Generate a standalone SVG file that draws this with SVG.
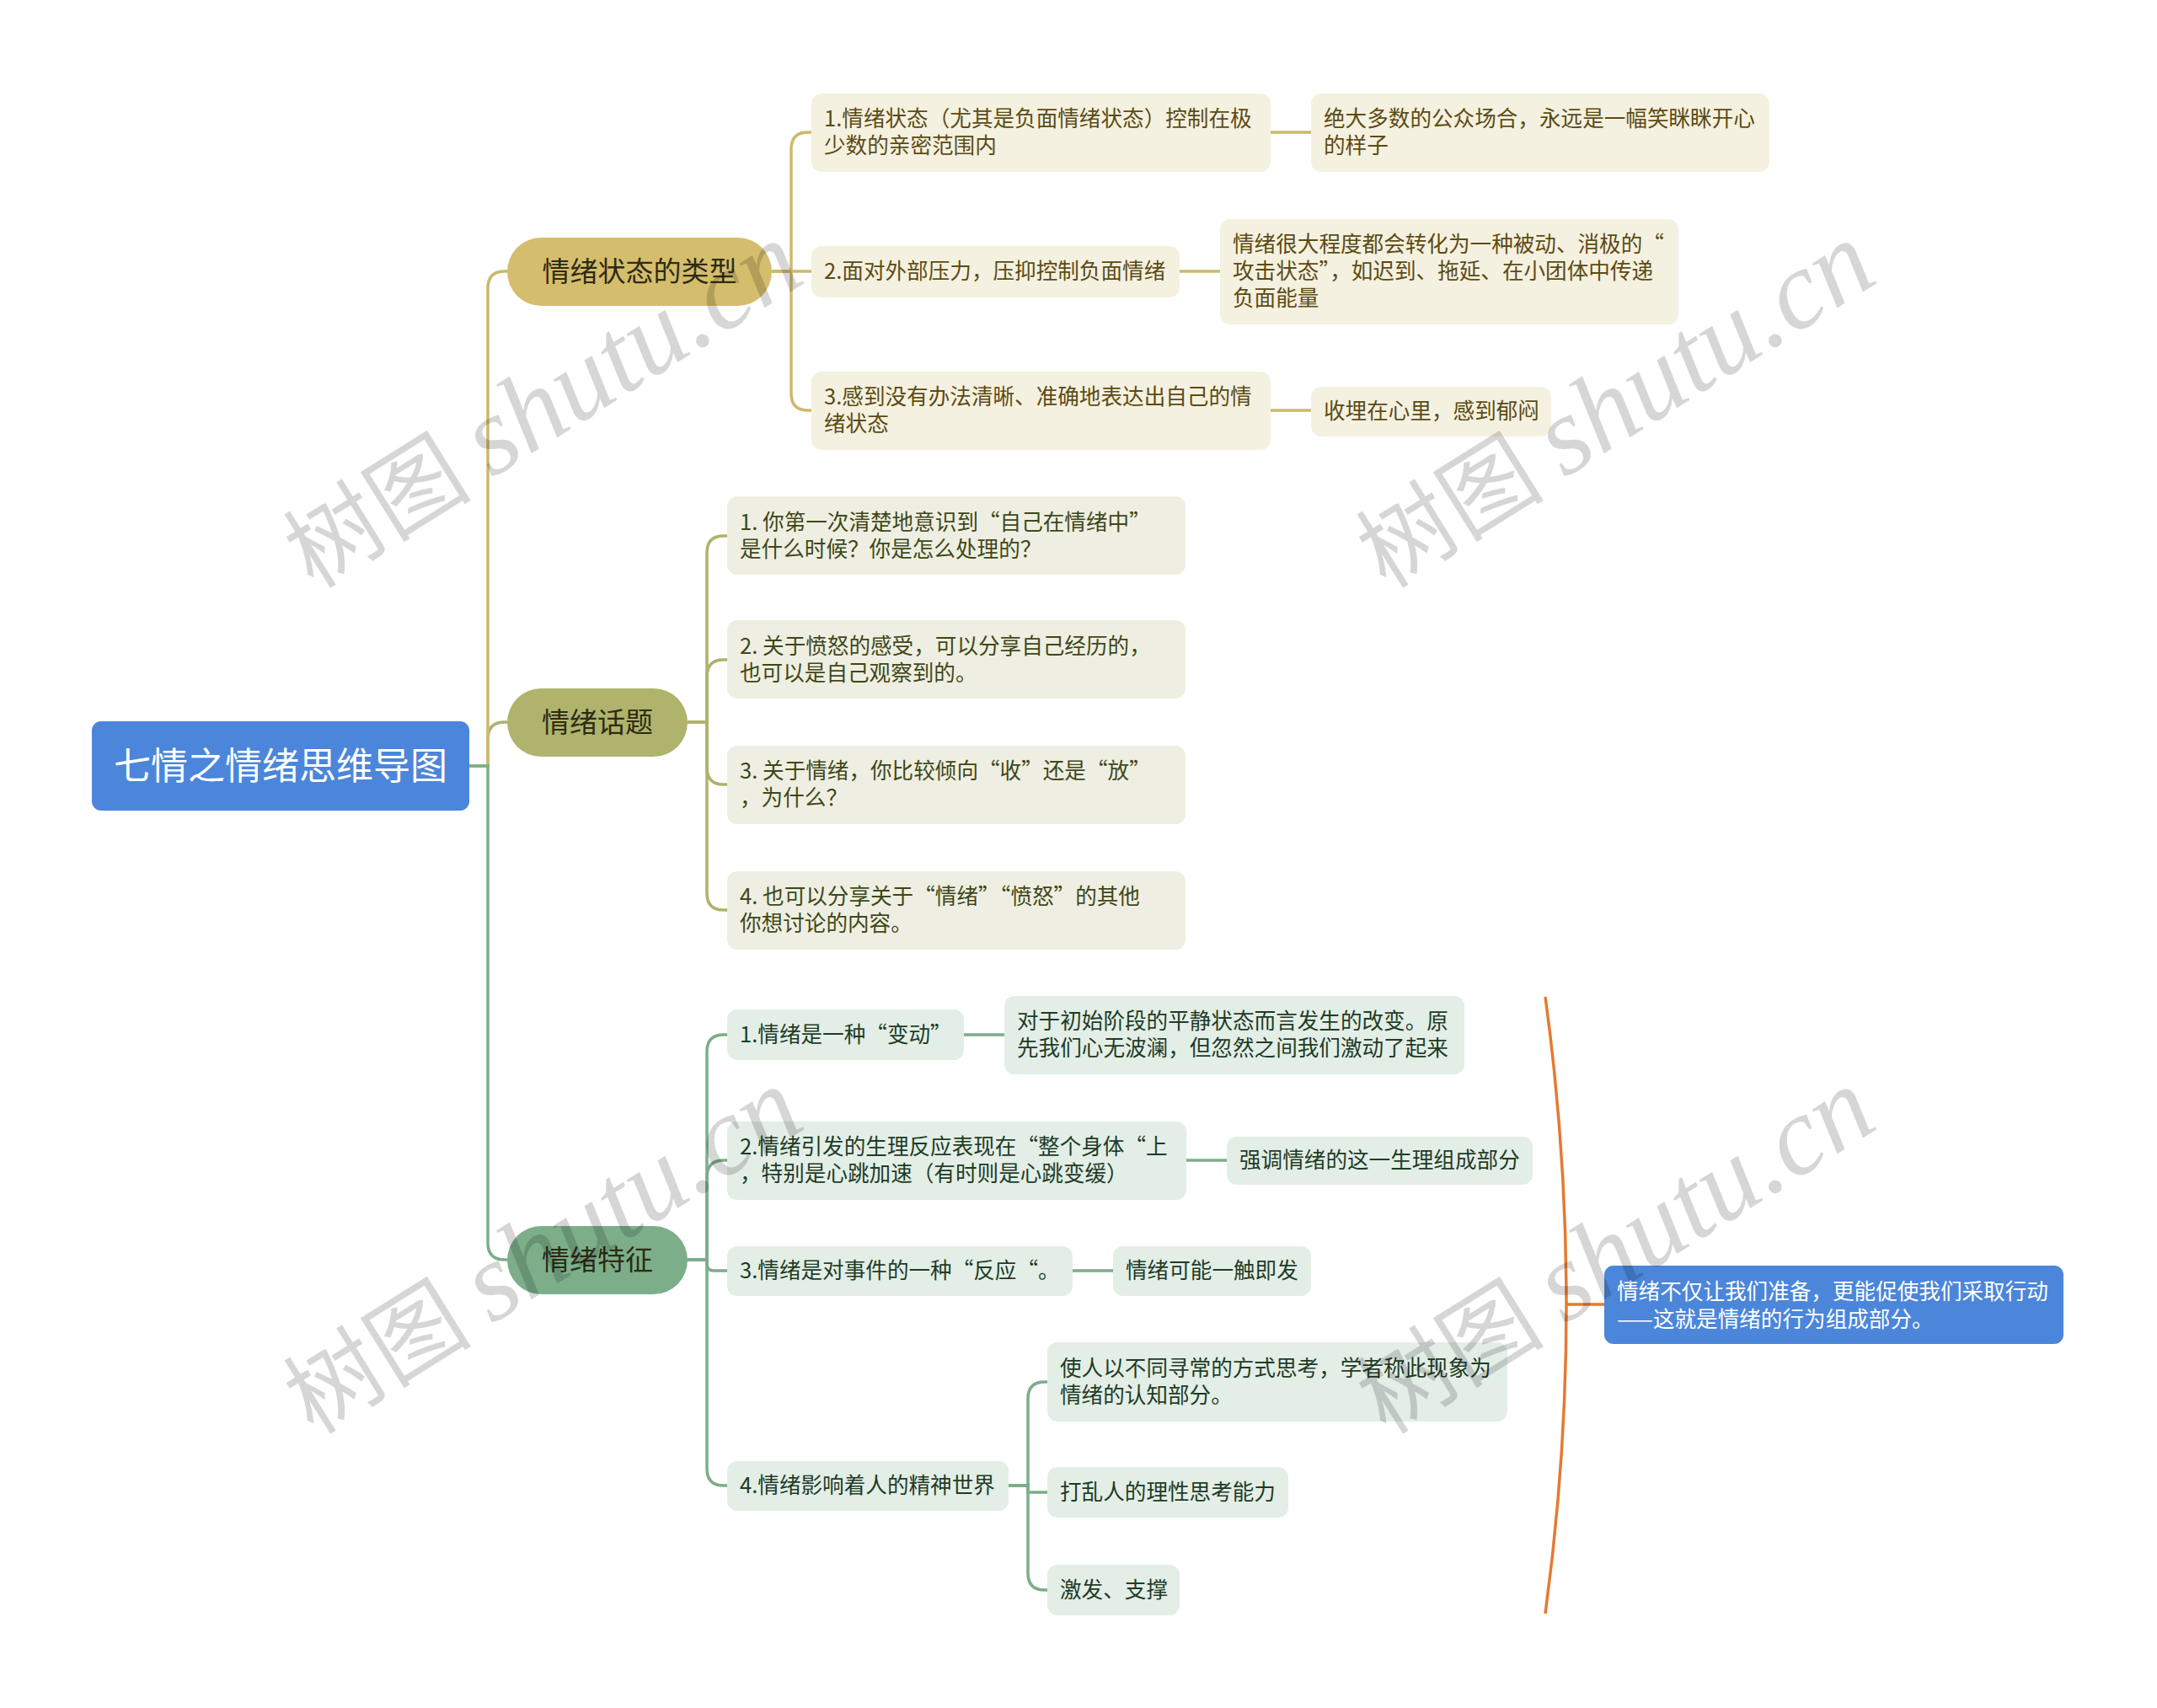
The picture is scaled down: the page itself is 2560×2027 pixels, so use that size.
<svg xmlns="http://www.w3.org/2000/svg" width="2560" height="2027" viewBox="0 0 2560 2027">
<style>
text{font-family:"Noto Sans CJK SC","Noto Sans",sans-serif;}
.t{font-size:25.6px;}
.l1{font-size:33px;text-anchor:middle;fill:#2e2a14;}
.root{font-size:44px;text-anchor:middle;fill:#ffffff;}
.gbox{fill:#f5f1e0;}
.gt{fill:#5c4b14;}
.obox{fill:#eeefe2;}
.ot{fill:#3f4718;}
.nbox{fill:#e3eee6;}
.nt{fill:#1e3c26;}
.cg{fill:none;stroke:#cdb96c;stroke-width:3.5;}
.co{fill:none;stroke:#aeb26c;stroke-width:3.5;}
.cn{fill:none;stroke:#7cad89;stroke-width:3.5;}
.wm{font-size:112px;fill:#000;fill-opacity:0.16;}
.wm .lat{font-family:"Liberation Serif",serif;font-style:italic;font-size:132px;}
</style>
<rect width="2560" height="2027" fill="#ffffff"/>
<g id="connectors">
<path class="co" d="M557,909 H579 V877 Q579,857 599,857 H602"/>
<path class="cg" d="M557,909 H579 V342 Q579,322 599,322 H602"/>
<path class="cn" d="M557,909 H579 V1475 Q579,1495 599,1495 H602"/>
<path class="cg" d="M916,322 H939 V177 Q939,157 959,157 H963"/>
<path class="cg" d="M916,322 H963"/>
<path class="cg" d="M916,322 H939 V467 Q939,487 959,487 H963"/>
<path class="cg" d="M1508,157 H1556"/>
<path class="cg" d="M1400,322 H1448"/>
<path class="cg" d="M1508,487 H1556"/>
<path class="co" d="M816,857 H839 V656 Q839,636 859,636 H863"/>
<path class="co" d="M816,857 H839 V803 Q839,783 859,783 H863"/>
<path class="co" d="M816,857 H839 V911 Q839,931 859,931 H863"/>
<path class="co" d="M816,857 H839 V1060 Q839,1080 859,1080 H863"/>
<path class="cn" d="M816,1495 H839 V1248 Q839,1228 859,1228 H863"/>
<path class="cn" d="M816,1495 H839 V1397 Q839,1377 859,1377 H863"/>
<path class="cn" d="M816,1495 H839 V1500 Q839,1508 847,1508 H863"/>
<path class="cn" d="M816,1495 H839 V1743 Q839,1763 859,1763 H863"/>
<path class="cn" d="M1144,1228 H1192"/>
<path class="cn" d="M1408,1377 H1456"/>
<path class="cn" d="M1273,1508 H1321"/>
<path class="cn" d="M1197,1763 H1220 V1660 Q1220,1640 1240,1640 H1243"/>
<path class="cn" d="M1197,1763 H1220 V1771 H1243"/>
<path class="cn" d="M1197,1763 H1220 V1867 Q1220,1887 1240,1887 H1243"/>
<path d="M1834,1183 Q1884,1548 1834,1915" fill="none" stroke="#e57a32" stroke-width="3.5"/>
<path d="M1859,1548 H1904" fill="none" stroke="#e57a32" stroke-width="3.5"/>
</g>
<g id="root">
<rect x="109" y="856" width="448" height="106" rx="11" fill="#4b86da"/>
<text class="root" x="333" y="925">七情之情绪思维导图</text>
</g>
<g id="n-types">
<rect x="602" y="282" width="314" height="81" rx="40.5" fill="#d4bd6c"/>
<text class="l1" x="759" y="334">情绪状态的类型</text>
</g>
<g id="n-topics">
<rect x="602" y="817" width="214" height="81" rx="40.5" fill="#afb36c"/>
<text class="l1" x="709" y="869">情绪话题</text>
</g>
<g id="n-features">
<rect x="602" y="1455" width="214" height="81" rx="40.5" fill="#7bae89"/>
<text class="l1" x="709" y="1507">情绪特征</text>
</g>
<g id="g-a">
<rect class="gbox" x="963" y="111" width="545" height="93" rx="12"/>
<text class="t gt" x="978" y="150">1.情绪状态（尤其是负面情绪状态）控制在极<tspan x="978" y="182">少数的亲密范围内</tspan></text>
</g>
<g id="g-b">
<rect class="gbox" x="963" y="292" width="437" height="61" rx="12"/>
<text class="t gt" x="978" y="331">2.面对外部压力，压抑控制负面情绪</text>
</g>
<g id="g-c">
<rect class="gbox" x="963" y="441" width="545" height="93" rx="12"/>
<text class="t gt" x="978" y="480">3.感到没有办法清晰、准确地表达出自己的情<tspan x="978" y="512">绪状态</tspan></text>
</g>
<g id="g-a1">
<rect class="gbox" x="1556" y="111" width="544" height="93" rx="12"/>
<text class="t gt" x="1571" y="150">绝大多数的公众场合，永远是一幅笑眯眯开心<tspan x="1571" y="182">的样子</tspan></text>
</g>
<g id="g-b1">
<rect class="gbox" x="1448" y="260" width="544" height="125" rx="12"/>
<text class="t gt" x="1463" y="299">情绪很大程度都会转化为一种被动、消极的“<tspan x="1463" y="331">攻击状态”，如迟到、拖延、在小团体中传递</tspan><tspan x="1463" y="363">负面能量</tspan></text>
</g>
<g id="g-c1">
<rect class="gbox" x="1556" y="459" width="285" height="59" rx="12"/>
<text class="t gt" x="1571" y="497">收埋在心里，感到郁闷</text>
</g>
<g id="o-1">
<rect class="obox" x="863" y="589" width="544" height="93" rx="12"/>
<text class="t ot" x="878" y="629">1. 你第一次清楚地意识到“自己在情绪中”<tspan x="878" y="661">是什么时候？你是怎么处理的？</tspan></text>
</g>
<g id="o-2">
<rect class="obox" x="863" y="736" width="544" height="93" rx="12"/>
<text class="t ot" x="878" y="776">2. 关于愤怒的感受，可以分享自己经历的，<tspan x="878" y="808">也可以是自己观察到的。</tspan></text>
</g>
<g id="o-3">
<rect class="obox" x="863" y="885" width="544" height="93" rx="12"/>
<text class="t ot" x="878" y="924">3. 关于情绪，你比较倾向“收”还是“放”<tspan x="878" y="956">，为什么？</tspan></text>
</g>
<g id="o-4">
<rect class="obox" x="863" y="1034" width="544" height="93" rx="12"/>
<text class="t ot" x="878" y="1073">4. 也可以分享关于“情绪”“愤怒”的其他<tspan x="878" y="1105">你想讨论的内容。</tspan></text>
</g>
<g id="f-1">
<rect class="nbox" x="863" y="1198" width="281" height="60" rx="12"/>
<text class="t nt" x="878" y="1237">1.情绪是一种“变动”</text>
</g>
<g id="f-1a">
<rect class="nbox" x="1192" y="1182" width="546" height="93" rx="12"/>
<text class="t nt" x="1207" y="1221">对于初始阶段的平静状态而言发生的改变。原<tspan x="1207" y="1253">先我们心无波澜，但忽然之间我们激动了起来</tspan></text>
</g>
<g id="f-2">
<rect class="nbox" x="863" y="1331" width="545" height="93" rx="12"/>
<text class="t nt" x="878" y="1370">2.情绪引发的生理反应表现在“整个身体“上<tspan x="878" y="1402">，特别是心跳加速（有时则是心跳变缓）</tspan></text>
</g>
<g id="f-2a">
<rect class="nbox" x="1456" y="1349" width="363" height="57" rx="12"/>
<text class="t nt" x="1471" y="1386">强调情绪的这一生理组成部分</text>
</g>
<g id="f-3">
<rect class="nbox" x="863" y="1479" width="410" height="59" rx="12"/>
<text class="t nt" x="878" y="1517">3.情绪是对事件的一种“反应“。</text>
</g>
<g id="f-3a">
<rect class="nbox" x="1321" y="1479" width="235" height="59" rx="12"/>
<text class="t nt" x="1336" y="1517">情绪可能一触即发</text>
</g>
<g id="f-4">
<rect class="nbox" x="863" y="1734" width="334" height="59" rx="12"/>
<text class="t nt" x="878" y="1772">4.情绪影响着人的精神世界</text>
</g>
<g id="f-4a">
<rect class="nbox" x="1243" y="1593" width="546" height="94" rx="12"/>
<text class="t nt" x="1258" y="1633">使人以不同寻常的方式思考，学者称此现象为<tspan x="1258" y="1665">情绪的认知部分。</tspan></text>
</g>
<g id="f-4b">
<rect class="nbox" x="1243" y="1741" width="286" height="60" rx="12"/>
<text class="t nt" x="1258" y="1780">打乱人的理性思考能力</text>
</g>
<g id="f-4c">
<rect class="nbox" x="1243" y="1857" width="157" height="60" rx="12"/>
<text class="t nt" x="1258" y="1896">激发、支撑</text>
</g>
<g id="summary">
<rect x="1904" y="1502" width="545" height="93" rx="11" fill="#4b86da"/>
<text class="t" fill="#ffffff" x="1919" y="1542">情绪不仅让我们准备，更能促使我们采取行动<tspan x="1919" y="1575">——这就是情绪的行为组成部分。</tspan></text>
</g>
<g id="watermarks">
<text class="wm" x="372" y="700" transform="rotate(-32 372 700)">树图 <tspan class="lat">shutu.cn</tspan></text>
<text class="wm" x="1645" y="700" transform="rotate(-32 1645 700)">树图 <tspan class="lat">shutu.cn</tspan></text>
<text class="wm" x="372" y="1704" transform="rotate(-32 372 1704)">树图 <tspan class="lat">shutu.cn</tspan></text>
<text class="wm" x="1645" y="1704" transform="rotate(-32 1645 1704)">树图 <tspan class="lat">shutu.cn</tspan></text>
</g>
</svg>
